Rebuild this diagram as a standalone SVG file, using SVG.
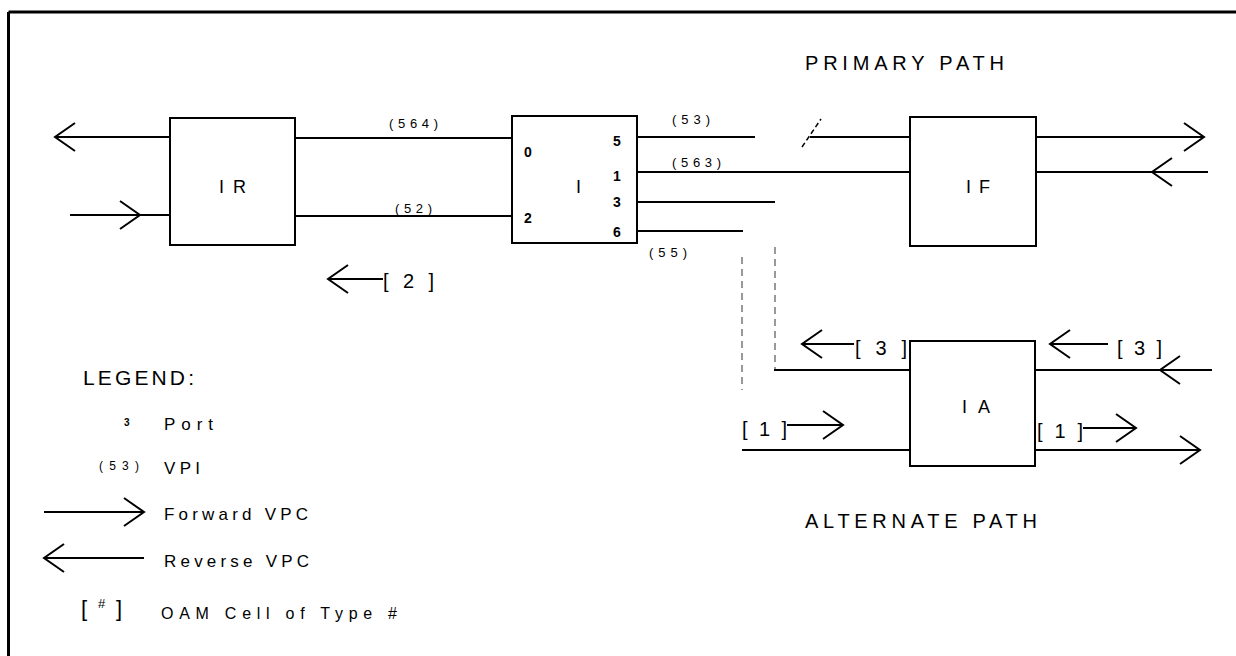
<svg xmlns="http://www.w3.org/2000/svg" xmlns:xlink="http://www.w3.org/1999/xlink" width="1236" height="656" viewBox="0 0 1236 656">
<style>
.ln{stroke:#000;stroke-width:2;fill:none}
.bx{stroke:#000;stroke-width:2;fill:#fff}
.dash{stroke:#555;stroke-width:1.2;fill:none;stroke-dasharray:7 5}
.ah{stroke:#000;stroke-width:2;fill:none}
text{font-family:"Liberation Sans",Arial,sans-serif;fill:#000}
.big{font-size:20px}
.nm{font-size:18px}
.vpi{font-size:13px}
.port{font-size:14px;font-weight:bold}
.lg{font-size:17px}
</style>
<defs>
<path id="hr" class="ah" d="M-20,-14 L0,0 L-20,14"/>
<path id="hl" class="ah" d="M20,-14 L0,0 L20,14"/>
</defs>
<rect width="1236" height="656" fill="#fff"/>
<g id="frame">
<line x1="8.5" y1="12" x2="1236" y2="12" stroke="#000" stroke-width="3"/>
<line x1="8.5" y1="12" x2="8.5" y2="656" stroke="#000" stroke-width="3"/>
</g>
<g id="connectors">
<line class="ln" x1="55" y1="137" x2="170" y2="137"/><use xlink:href="#hl" x="55" y="137"/>
<line class="ln" x1="70" y1="215" x2="170" y2="215"/><use xlink:href="#hr" x="140" y="215"/>
<line class="ln" x1="295" y1="138" x2="512" y2="138"/>
<line class="ln" x1="295" y1="216" x2="512" y2="216"/>
<line class="ln" x1="637" y1="137" x2="755" y2="137"/>
<line class="ln" x1="810" y1="137" x2="910" y2="137"/>
<line x1="802" y1="147" x2="821" y2="119" stroke="#000" stroke-width="1.5" stroke-dasharray="5 3"/>
<line class="ln" x1="637" y1="172" x2="910" y2="172"/>
<line class="ln" x1="637" y1="202" x2="775" y2="202"/>
<line class="ln" x1="637" y1="231" x2="743" y2="231"/>
<line class="dash" x1="775" y1="247" x2="775" y2="370"/>
<line class="dash" x1="742" y1="257" x2="742" y2="390"/>
<line class="ln" x1="774" y1="370" x2="910" y2="370"/>
<line class="ln" x1="742" y1="450" x2="910" y2="450"/>
<line class="ln" x1="1036" y1="137" x2="1204" y2="137"/><use xlink:href="#hr" x="1204" y="137"/>
<line class="ln" x1="1036" y1="172" x2="1208" y2="172"/><use xlink:href="#hl" x="1152" y="172"/>
<line class="ln" x1="1035" y1="370" x2="1212" y2="370"/><use xlink:href="#hl" x="1160" y="370"/>
<line class="ln" x1="1035" y1="450" x2="1200" y2="450"/><use xlink:href="#hr" x="1200" y="450"/>
</g>
<g id="node-IR">
<rect class="bx" x="170" y="118" width="125" height="127"/>
<text class="nm" x="219" y="193" textLength="27" lengthAdjust="spacing">IR</text>
</g>
<g id="node-I">
<rect class="bx" x="512" y="116" width="125" height="127"/>
<text class="nm" x="576" y="193">I</text>
<text class="port" x="524" y="157">0</text>
<text class="port" x="524" y="223">2</text>
<text class="port" x="613" y="146">5</text>
<text class="port" x="613" y="181">1</text>
<text class="port" x="613" y="207">3</text>
<text class="port" x="613" y="237">6</text>
</g>
<g id="node-IF">
<rect class="bx" x="910" y="117" width="126" height="129"/>
<text class="nm" x="966" y="193" textLength="24" lengthAdjust="spacing">IF</text>
</g>
<g id="node-IA">
<rect class="bx" x="910" y="341" width="125" height="125"/>
<text class="nm" x="962" y="413" textLength="28" lengthAdjust="spacing">IA</text>
</g>
<g id="labels">
<text class="big" x="805" y="70" textLength="199" lengthAdjust="spacing">PRIMARY PATH</text>
<text class="big" x="805" y="528" textLength="232" lengthAdjust="spacing">ALTERNATE PATH</text>
<text class="vpi" x="389" y="128" textLength="49" lengthAdjust="spacing">(564)</text>
<text class="vpi" x="395" y="213" textLength="37" lengthAdjust="spacing">(52)</text>
<text class="vpi" x="672" y="124" textLength="38" lengthAdjust="spacing">(53)</text>
<text class="vpi" x="672" y="167" textLength="49" lengthAdjust="spacing">(563)</text>
<text class="vpi" x="649" y="257" textLength="38" lengthAdjust="spacing">(55)</text>
</g>
<g id="oam-2">
<use xlink:href="#hl" x="328" y="279"/><line class="ln" x1="328" y1="279" x2="383" y2="279"/>
<text class="big" x="383" y="288" textLength="51" lengthAdjust="spacing">[2]</text>
</g>
<g id="oam-3-left">
<use xlink:href="#hl" x="802" y="344"/><line class="ln" x1="802" y1="344" x2="854" y2="344"/>
<text class="big" x="855" y="355" textLength="52" lengthAdjust="spacing">[3]</text>
</g>
<g id="oam-3-right">
<use xlink:href="#hl" x="1050" y="344"/><line class="ln" x1="1050" y1="344" x2="1108" y2="344"/>
<text class="big" x="1117" y="355" textLength="45" lengthAdjust="spacing">[3]</text>
</g>
<g id="oam-1-left">
<text class="big" x="742" y="436" textLength="45" lengthAdjust="spacing">[1]</text>
<line class="ln" x1="787" y1="425" x2="843" y2="425"/><use xlink:href="#hr" x="843" y="425"/>
</g>
<g id="oam-1-right">
<text class="big" x="1037" y="438" textLength="46" lengthAdjust="spacing">[1]</text>
<line class="ln" x1="1083" y1="428" x2="1136" y2="428"/><use xlink:href="#hr" x="1136" y="428"/>
</g>
<g id="legend">
<text x="83" y="385" font-size="21" textLength="111" lengthAdjust="spacing">LEGEND:</text>
<text x="124" y="426" font-size="10" font-weight="bold">3</text>
<text class="lg" x="164" y="430" textLength="49" lengthAdjust="spacing">Port</text>
<text x="99" y="470" font-size="12" textLength="40" lengthAdjust="spacing">(53)</text>
<text class="lg" x="164" y="474" textLength="36" lengthAdjust="spacing">VPI</text>
<line class="ln" x1="44" y1="512" x2="144" y2="512"/><use xlink:href="#hr" x="144" y="512"/>
<text class="lg" x="164" y="520" textLength="144" lengthAdjust="spacing">Forward VPC</text>
<line class="ln" x1="44" y1="558" x2="144" y2="558"/><use xlink:href="#hl" x="44" y="558"/>
<text class="lg" x="164" y="567" textLength="145" lengthAdjust="spacing">Reverse VPC</text>
<text x="81" y="616" font-size="22">[</text>
<text x="98" y="608" font-size="13">#</text>
<text x="116" y="616" font-size="22">]</text>
<text x="161" y="619" font-size="16" textLength="236" lengthAdjust="spacing">OAM Cell of Type #</text>
</g>
</svg>
